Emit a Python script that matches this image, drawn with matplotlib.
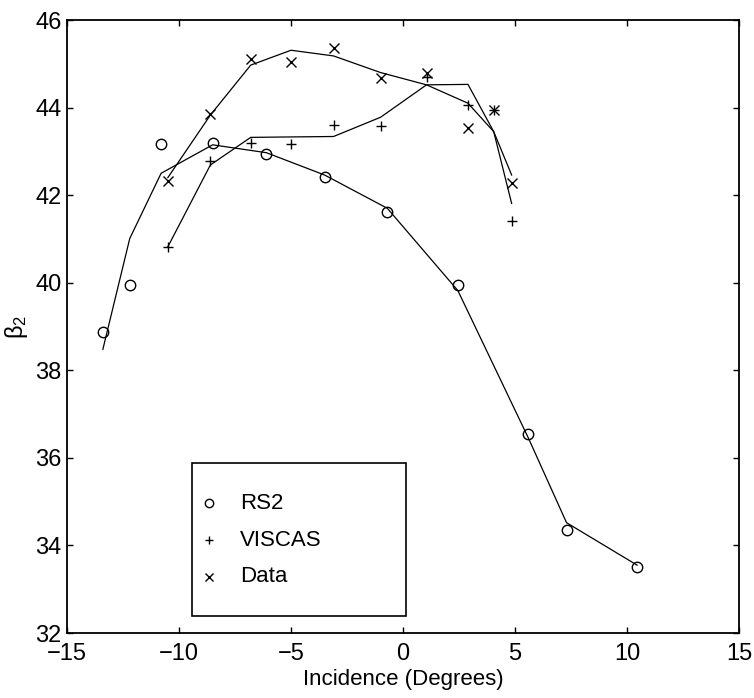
import matplotlib
matplotlib.use("Agg")
import matplotlib.pyplot as plt
from matplotlib.patches import Rectangle

plt.rcParams['font.family'] = ['Liberation Sans Narrow', 'Liberation Sans', 'DejaVu Sans']
plt.rcParams['mathtext.fontset'] = 'custom'
plt.rcParams['mathtext.rm'] = 'Liberation Sans'
plt.rcParams['mathtext.it'] = 'Liberation Sans'

# RS2 predictions (markers) and its fitted curve
rs2_x = [-13.4, -12.2, -10.8, -8.5, -6.1, -3.5, -0.7, 2.45, 5.6, 7.3, 10.45]
rs2_y = [38.88, 39.95, 43.17, 43.20, 42.94, 42.42, 41.61, 39.95, 36.54, 34.35, 33.50]
rs2_fit = [38.48, 41.01, 42.50, 43.15, 42.97, 42.46, 41.70, 39.82, 36.45, 34.52, 33.55]

# VISCAS predictions and fitted curve
viscas_x = [-10.5, -8.6, -6.8, -5.0, -3.1, -1.0, 1.05, 2.9, 4.05, 4.85]
viscas_y = [40.81, 42.78, 43.20, 43.18, 43.60, 43.58, 44.70, 44.06, 43.95, 41.40]
viscas_fit = [40.82, 42.69, 43.32, 43.33, 43.34, 43.78, 44.52, 44.10, 43.45, 41.81]

# Measured data and fitted curve
data_x = [-10.5, -8.6, -6.8, -5.0, -3.1, -1.0, 1.05, 2.9, 4.05, 4.85]
data_y = [42.32, 43.85, 45.11, 45.05, 45.35, 44.67, 44.80, 43.53, 43.95, 42.28]
data_fit = [42.40, 43.83, 44.97, 45.31, 45.18, 44.80, 44.52, 44.53, 43.45, 42.46]

x_ticks = [-15, -10, -5, 0, 5, 10, 15]
y_ticks = [32, 34, 36, 38, 40, 42, 44, 46]

legend_labels = ['RS2', 'VISCAS', 'Data']
legend_markers = ['o', '+', 'x']

fig = plt.figure(figsize=(7.54, 6.98), dpi=100)
ax = fig.add_axes([0.0889, 0.0931, 0.8912, 0.8782])

lw = 0.9
ax.plot(rs2_x, rs2_fit, color='black', lw=lw)
ax.plot(viscas_x, viscas_fit, color='black', lw=lw)
ax.plot(data_x, data_fit, color='black', lw=lw)

ax.plot(rs2_x, rs2_y, linestyle='none', marker='o', ms=7.5, mfc='none',
        mec='black', mew=1.0)
ax.plot(viscas_x, viscas_y, linestyle='none', marker='+', ms=7.5,
        mec='black', mew=1.0)
ax.plot(data_x, data_y, linestyle='none', marker='x', ms=7.5,
        mec='black', mew=1.0)

ax.set_xlim(-15, 15)
ax.set_ylim(32, 46)
ax.set_xticks(x_ticks)
ax.set_yticks(y_ticks)
ax.set_xticklabels([str(v).replace('-', '\u2212') for v in x_ticks])
ax.set_yticklabels([str(v) for v in y_ticks])
ax.tick_params(direction='in', length=4, width=1.0, top=True, right=True,
               labelsize=17, colors='black')
ax.tick_params(axis='x', pad=7)
ax.tick_params(axis='y', pad=4)
for sp in ax.spines.values():
    sp.set_linewidth(1.3)

ax.set_xlabel('Incidence (Degrees)', fontsize=16, labelpad=3)
ax.set_ylabel(r'$\mathregular{\beta_2}$', fontsize=17, labelpad=4)

# Boxed key in the lower-left part of the axes
ax.add_patch(Rectangle((0.186, 0.0277), 0.318, 0.2496, transform=ax.transAxes,
                       facecolor='white', edgecolor='black', lw=1.2, zorder=5))
row_y = [0.2121, 0.1517, 0.0914]
for lab, mk, yy in zip(legend_labels, legend_markers, row_y):
    kw = dict(mfc='none') if mk == 'o' else {}
    ax.plot([0.2113], [yy], transform=ax.transAxes, linestyle='none', marker=mk,
            ms=6, mec='black', mew=1.0, zorder=6, clip_on=False, **kw)
    ax.text(0.2574, yy, lab, transform=ax.transAxes, fontsize=16,
            va='center', ha='left', zorder=6)

fig.savefig('out.png', dpi=100, facecolor='white')
